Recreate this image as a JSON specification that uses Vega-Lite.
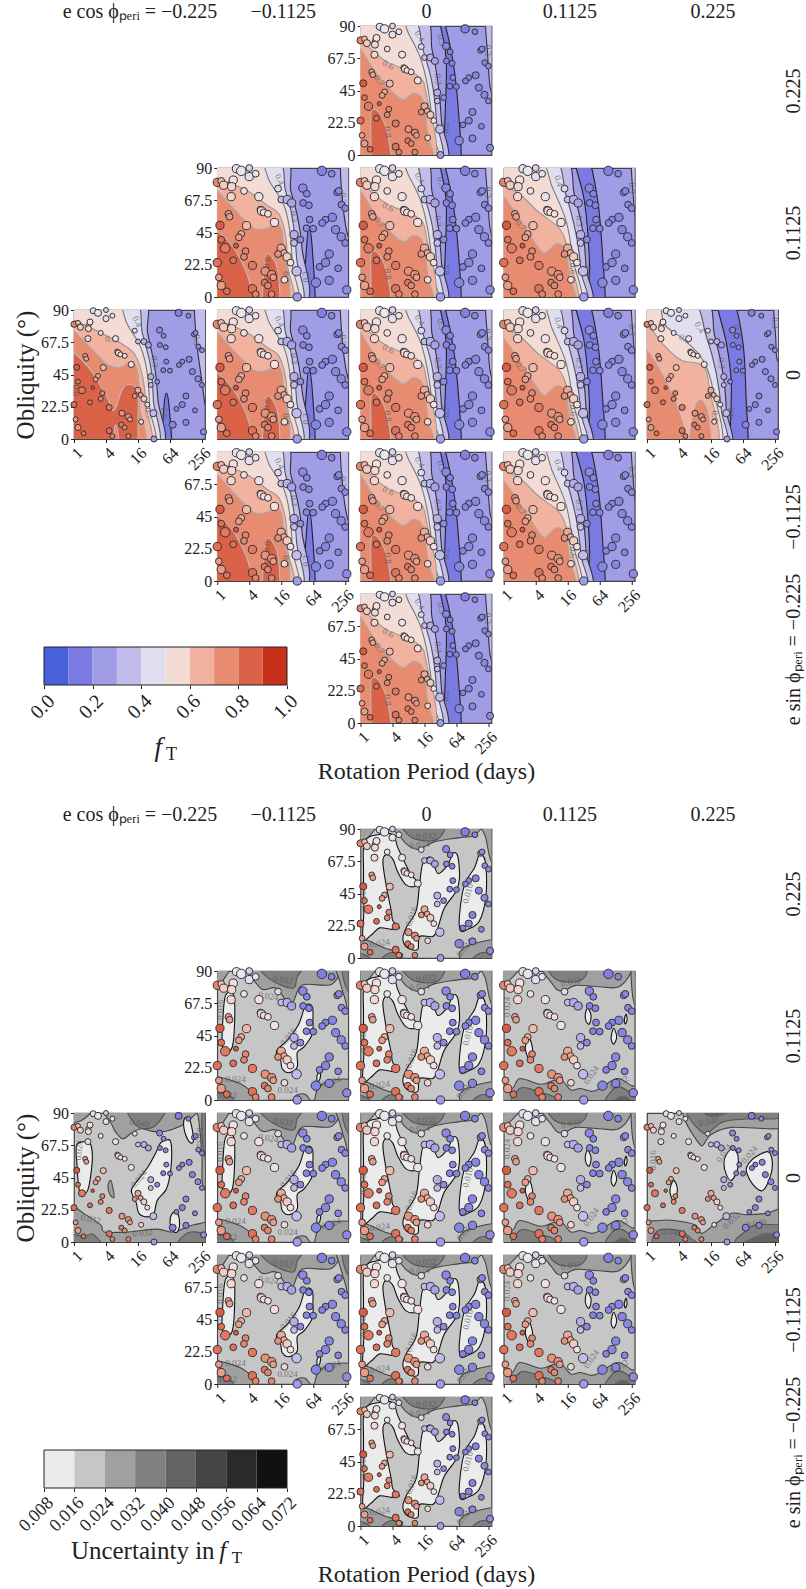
{"$schema":"https://vega.github.io/schema/vega-lite/v6.json","padding":{"left":12,"top":0,"right":0,"bottom":0},"autosize":{"type":"pad"},"bounds":"flush","align":"each","columns":5,"spacing":{"row":13,"column":12.25},"resolve":{"scale":{"fill":"independent","stroke":"independent","size":"independent"}},
"config":{"view":{"stroke":null,"strokeWidth":1.2,"continuousWidth":131,"continuousHeight":129,"discreteWidth":131,"discreteHeight":129},"legend":{"disable":true},"range":{"ramp":{"scheme":["#7f7fe4","#8f8fe6","#e8e6f0","#f2dcd6","#e8907a","#dc5a40"]}},
"axis":{"grid":false,"domain":false,"labelFont":"Liberation Serif","titleFont":"Liberation Serif","labelFontSize":16,"labelColor":"#222","tickColor":"#222","tickSize":3.5,"labelPadding":2,"titleFontWeight":"normal","titleColor":"#222","labelOverlap":false,"labelFlush":false},
"axisX":{"labelAngle":-45,"labelAlign":"right","labelBaseline":"top"},"axisRight":{"labels":false,"ticks":false,"titleAngle":-90,"titlePadding":25,"titleFontSize":20},"axisTop":{"labels":false,"ticks":false,"titlePadding":5,"titleFontSize":20},
"line":{"interpolate":"cardinal-closed","strokeWidth":1.1},"text":{"font":"Liberation Serif","fontSize":9,"fill":"#555","opacity":0.7,"align":"center","baseline":"middle"},"point":{"filled":true,"stroke":"#333","strokeWidth":1,"opacity":1}},
"datasets":{"e":[{"a":1}],
"cb":[{"a":0,"b":0.1,"L":0,"y":0,"z":1},{"a":0.1,"b":0.2,"L":1,"y":0,"z":1},{"a":0.2,"b":0.3,"L":2,"y":0,"z":1},{"a":0.3,"b":0.4,"L":3,"y":0,"z":1},{"a":0.4,"b":0.5,"L":4,"y":0,"z":1},{"a":0.5,"b":0.6,"L":5,"y":0,"z":1},{"a":0.6,"b":0.7,"L":6,"y":0,"z":1},{"a":0.7,"b":0.8,"L":7,"y":0,"z":1},{"a":0.8,"b":0.9,"L":8,"y":0,"z":1},{"a":0.9,"b":1,"L":9,"y":0,"z":1}],
"cu":[{"a":0.008,"b":0.016,"L":0,"y":0,"z":1},{"a":0.016,"b":0.024,"L":1,"y":0,"z":1},{"a":0.024,"b":0.032,"L":2,"y":0,"z":1},{"a":0.032,"b":0.04,"L":3,"y":0,"z":1},{"a":0.04,"b":0.048,"L":4,"y":0,"z":1},{"a":0.048,"b":0.056,"L":5,"y":0,"z":1},{"a":0.056,"b":0.064,"L":6,"y":0,"z":1},{"a":0.064,"b":0.072,"L":7,"y":0,"z":1}],
"p":[{"x":1.2,"y":89.5,"s":3,"f":0.45},{"x":1.5,"y":88,"s":4,"f":0.47},{"x":2,"y":90,"s":2,"f":0.43},{"x":2,"y":84,"s":3,"f":0.45},{"x":2.4,"y":86,"s":2,"f":0.5},{"x":0,"y":80,"s":3,"f":0.75},{"x":0.25,"y":81,"s":2,"f":0.65},{"x":0.4,"y":78,"s":3,"f":0.62},{"x":0.9,"y":79,"s":2,"f":0.6},{"x":1,"y":81.6,"s":3,"f":0.55},{"x":0.9,"y":77,"s":3,"f":0.6},{"x":1.67,"y":74,"s":2,"f":0.55},{"x":0.87,"y":70,"s":3,"f":0.6},{"x":2.6,"y":70,"s":3,"f":0.53},{"x":2.7,"y":61,"s":2,"f":0.6},{"x":2.77,"y":60,"s":3,"f":0.6},{"x":2.9,"y":59,"s":2,"f":0.58},{"x":3.17,"y":58,"s":2,"f":0.55},{"x":3.58,"y":52,"s":3,"f":0.55},{"x":3.8,"y":75.6,"s":2,"f":0.44},{"x":4,"y":68,"s":2,"f":0.4},{"x":4.37,"y":68,"s":3,"f":0.38},{"x":4.65,"y":65.6,"s":3,"f":0.36},{"x":5.35,"y":76,"s":3,"f":0.28},{"x":5.6,"y":72,"s":2,"f":0.25},{"x":5.37,"y":65.6,"s":2,"f":0.25},{"x":5.73,"y":64,"s":2,"f":0.25},{"x":6.54,"y":88,"s":4,"f":0.2},{"x":7.15,"y":86,"s":2,"f":0.25},{"x":7.5,"y":73,"s":2,"f":0.28},{"x":7.6,"y":74,"s":2,"f":0.28},{"x":7.77,"y":64.4,"s":2,"f":0.28},{"x":8,"y":62,"s":2,"f":0.28},{"x":7.2,"y":55.6,"s":3,"f":0.25},{"x":6.77,"y":54,"s":2,"f":0.25},{"x":6.56,"y":51.6,"s":2,"f":0.25},{"x":5.77,"y":54,"s":2,"f":0.25},{"x":5.58,"y":48,"s":2,"f":0.25},{"x":6,"y":47.7,"s":2,"f":0.25},{"x":4.8,"y":43.5,"s":3,"f":0.38},{"x":5.2,"y":40,"s":2,"f":0.3},{"x":4.8,"y":37.7,"s":2,"f":0.4},{"x":7.4,"y":47,"s":3,"f":0.25},{"x":7.75,"y":42,"s":3,"f":0.27},{"x":8,"y":37.7,"s":2,"f":0.27},{"x":0.7,"y":58,"s":2,"f":0.7},{"x":0.77,"y":56,"s":2,"f":0.7},{"x":0.17,"y":50,"s":3,"f":0.85},{"x":1.83,"y":49.8,"s":3,"f":0.65},{"x":1.5,"y":44,"s":2,"f":0.68},{"x":1.35,"y":41.6,"s":2,"f":0.7},{"x":0.5,"y":34,"s":4,"f":0.78},{"x":0.25,"y":40,"s":2,"f":0.8},{"x":1.17,"y":35.8,"s":1,"f":0.85},{"x":1.77,"y":32,"s":2,"f":0.75},{"x":1.67,"y":28,"s":2,"f":0.75},{"x":1,"y":25.6,"s":2,"f":0.8},{"x":2.2,"y":22,"s":3,"f":0.78},{"x":0,"y":24,"s":3,"f":0.8},{"x":0.1,"y":13.7,"s":2,"f":0.7},{"x":0.25,"y":8,"s":3,"f":0.7},{"x":0.6,"y":4,"s":2,"f":0.8},{"x":3,"y":18,"s":3,"f":0.72},{"x":3.4,"y":15.6,"s":3,"f":0.72},{"x":3.5,"y":13.7,"s":2,"f":0.7},{"x":2.96,"y":10,"s":2,"f":0.78},{"x":3.17,"y":8,"s":2,"f":0.75},{"x":2.2,"y":5.8,"s":3,"f":0.8},{"x":2.4,"y":2,"s":2,"f":0.75},{"x":3.4,"y":2,"s":2,"f":0.75},{"x":4,"y":34,"s":3,"f":0.68},{"x":4.17,"y":30.7,"s":2,"f":0.68},{"x":4.37,"y":28,"s":3,"f":0.62},{"x":3.8,"y":30,"s":2,"f":0.72},{"x":4.58,"y":24,"s":2,"f":0.55},{"x":4.96,"y":18,"s":4,"f":0.4},{"x":4.2,"y":12,"s":2,"f":0.6},{"x":6.17,"y":10,"s":4,"f":0.25},{"x":6.4,"y":21,"s":2,"f":0.25},{"x":6.77,"y":24,"s":3,"f":0.25},{"x":7,"y":30,"s":3,"f":0.25},{"x":7,"y":11.6,"s":3,"f":0.25},{"x":7.56,"y":20,"s":2,"f":0.25},{"x":8.1,"y":5,"s":3,"f":0.3},{"x":5,"y":0,"s":3,"f":0.35}],
"f1":[{"r":1,"L":3,"x":7.6,"y":98},{"r":1,"L":3,"x":7.65,"y":70},{"r":1,"L":3,"x":8,"y":40},{"r":1,"L":3,"x":8.25,"y":22},{"r":1,"L":3,"x":8.7,"y":20},{"r":1,"L":3,"x":8.7,"y":98},{"r":2,"L":1,"x":5.5,"y":-8},{"r":2,"L":1,"x":5.63,"y":23},{"r":2,"L":1,"x":5.77,"y":32},{"r":2,"L":1,"x":5.94,"y":23},{"r":2,"L":1,"x":6.1,"y":-8},{"r":3,"L":3,"x":4.2,"y":98},{"r":3,"L":3,"x":4.6,"y":74},{"r":3,"L":3,"x":5.05,"y":50},{"r":3,"L":3,"x":5.25,"y":27},{"r":3,"L":3,"x":5.3,"y":-8},{"r":3,"L":3,"x":-0.5,"y":-8},{"r":3,"L":3,"x":-0.5,"y":98},{"r":4,"L":4,"x":3.65,"y":98},{"r":4,"L":4,"x":4.27,"y":74},{"r":4,"L":4,"x":4.8,"y":50},{"r":4,"L":4,"x":4.96,"y":27},{"r":4,"L":4,"x":5,"y":-8},{"r":4,"L":4,"x":-0.5,"y":-8},{"r":4,"L":4,"x":-0.5,"y":98},{"r":5,"L":5,"x":2.5,"y":98},{"r":5,"L":5,"x":3.33,"y":80},{"r":5,"L":5,"x":4.17,"y":64},{"r":5,"L":5,"x":4.58,"y":46},{"r":5,"L":5,"x":4.73,"y":22},{"r":5,"L":5,"x":4.75,"y":-8},{"r":5,"L":5,"x":-0.5,"y":-8},{"r":5,"L":5,"x":-0.5,"y":98},{"r":6,"L":6,"x":-0.5,"y":84},{"r":6,"L":6,"x":0,"y":83},{"r":6,"L":6,"x":1.7,"y":74},{"r":6,"L":6,"x":2.9,"y":67},{"r":6,"L":6,"x":3.8,"y":59},{"r":6,"L":6,"x":4.3,"y":43},{"r":6,"L":6,"x":4.5,"y":23},{"r":6,"L":6,"x":4.55,"y":-8},{"r":6,"L":6,"x":-0.5,"y":-8},{"r":7,"L":7,"x":-0.5,"y":76},{"r":7,"L":7,"x":0,"y":75},{"r":7,"L":7,"x":1,"y":64},{"r":7,"L":7,"x":2.1,"y":52},{"r":7,"L":7,"x":2.9,"y":50},{"r":7,"L":7,"x":3.6,"y":54},{"r":7,"L":7,"x":4,"y":46},{"r":7,"L":7,"x":4.1,"y":23},{"r":7,"L":7,"x":4.2,"y":-8},{"r":7,"L":7,"x":-0.5,"y":-8},{"r":8,"L":8,"x":-0.5,"y":61},{"r":8,"L":8,"x":0,"y":60},{"r":8,"L":8,"x":1.04,"y":48},{"r":8,"L":8,"x":2.08,"y":29},{"r":8,"L":8,"x":2.5,"y":20},{"r":8,"L":8,"x":3,"y":34},{"r":8,"L":8,"x":3.4,"y":38},{"r":8,"L":8,"x":3.96,"y":34},{"r":8,"L":8,"x":4,"y":11},{"r":8,"L":8,"x":3.9,"y":-8},{"r":8,"L":8,"x":3,"y":-8},{"r":8,"L":8,"x":2.6,"y":10},{"r":8,"L":8,"x":2.1,"y":-8},{"r":8,"L":8,"x":-0.5,"y":-8}],
"f2":[{"r":1,"L":3,"x":7.75,"y":98},{"r":1,"L":3,"x":7.85,"y":65},{"r":1,"L":3,"x":8.25,"y":40},{"r":1,"L":3,"x":8.7,"y":40},{"r":1,"L":3,"x":8.7,"y":98},{"r":2,"L":1,"x":5.4,"y":-8},{"r":2,"L":1,"x":5.58,"y":34},{"r":2,"L":1,"x":5.73,"y":49},{"r":2,"L":1,"x":5.94,"y":34},{"r":2,"L":1,"x":6.1,"y":-8},{"r":3,"L":3,"x":4.1,"y":98},{"r":3,"L":3,"x":4.6,"y":74},{"r":3,"L":3,"x":5,"y":57},{"r":3,"L":3,"x":5.3,"y":34},{"r":3,"L":3,"x":5.35,"y":-8},{"r":3,"L":3,"x":-0.5,"y":-8},{"r":3,"L":3,"x":-0.5,"y":98},{"r":4,"L":4,"x":3.6,"y":98},{"r":4,"L":4,"x":4.27,"y":74},{"r":4,"L":4,"x":4.7,"y":55},{"r":4,"L":4,"x":4.96,"y":27},{"r":4,"L":4,"x":5.04,"y":-8},{"r":4,"L":4,"x":-0.5,"y":-8},{"r":4,"L":4,"x":-0.5,"y":98},{"r":5,"L":5,"x":2.4,"y":98},{"r":5,"L":5,"x":3.3,"y":80},{"r":5,"L":5,"x":4.17,"y":64},{"r":5,"L":5,"x":4.54,"y":46},{"r":5,"L":5,"x":4.7,"y":22},{"r":5,"L":5,"x":4.75,"y":-8},{"r":5,"L":5,"x":-0.5,"y":-8},{"r":5,"L":5,"x":-0.5,"y":98},{"r":6,"L":6,"x":-0.5,"y":84},{"r":6,"L":6,"x":0,"y":83},{"r":6,"L":6,"x":1.9,"y":74},{"r":6,"L":6,"x":3.1,"y":64},{"r":6,"L":6,"x":3.85,"y":58},{"r":6,"L":6,"x":4.27,"y":43},{"r":6,"L":6,"x":4.4,"y":22},{"r":6,"L":6,"x":4.5,"y":-8},{"r":6,"L":6,"x":-0.5,"y":-8},{"r":7,"L":7,"x":-0.5,"y":75},{"r":7,"L":7,"x":0,"y":74},{"r":7,"L":7,"x":1,"y":62},{"r":7,"L":7,"x":2.3,"y":48},{"r":7,"L":7,"x":3.1,"y":48},{"r":7,"L":7,"x":3.9,"y":50},{"r":7,"L":7,"x":4.15,"y":34},{"r":7,"L":7,"x":4.2,"y":-8},{"r":7,"L":7,"x":-0.5,"y":-8},{"r":8,"L":8,"x":-0.5,"y":47},{"r":8,"L":8,"x":0,"y":46},{"r":8,"L":8,"x":1.04,"y":34},{"r":8,"L":8,"x":2,"y":11},{"r":8,"L":8,"x":2.1,"y":-8},{"r":8,"L":8,"x":-0.5,"y":-8},{"r":9,"L":8,"x":3.1,"y":30},{"r":9,"L":8,"x":3.75,"y":20},{"r":9,"L":8,"x":3.85,"y":-8},{"r":9,"L":8,"x":2.9,"y":-8},{"r":9,"L":8,"x":2.9,"y":13}],
"f3":[{"r":1,"L":3,"x":7.85,"y":98},{"r":1,"L":3,"x":7.95,"y":70},{"r":1,"L":3,"x":8.15,"y":45},{"r":1,"L":3,"x":8.7,"y":45},{"r":1,"L":3,"x":8.7,"y":98},{"r":2,"L":1,"x":5.27,"y":-8},{"r":2,"L":1,"x":5.37,"y":62},{"r":2,"L":1,"x":5.06,"y":87},{"r":2,"L":1,"x":4.8,"y":98},{"r":2,"L":1,"x":5.1,"y":98},{"r":2,"L":1,"x":5.8,"y":64},{"r":2,"L":1,"x":6.15,"y":27},{"r":2,"L":1,"x":6.25,"y":-8},{"r":3,"L":3,"x":3.85,"y":98},{"r":3,"L":3,"x":4.48,"y":73},{"r":3,"L":3,"x":4.85,"y":50},{"r":3,"L":3,"x":5.06,"y":24},{"r":3,"L":3,"x":5.12,"y":-8},{"r":3,"L":3,"x":-0.5,"y":-8},{"r":3,"L":3,"x":-0.5,"y":98},{"r":4,"L":4,"x":3.1,"y":98},{"r":4,"L":4,"x":3.92,"y":73},{"r":4,"L":4,"x":4.48,"y":50},{"r":4,"L":4,"x":4.75,"y":24},{"r":4,"L":4,"x":4.8,"y":-8},{"r":4,"L":4,"x":-0.5,"y":-8},{"r":4,"L":4,"x":-0.5,"y":98},{"r":5,"L":5,"x":2.2,"y":98},{"r":5,"L":5,"x":3.08,"y":83},{"r":5,"L":5,"x":3.8,"y":66},{"r":5,"L":5,"x":4.27,"y":43},{"r":5,"L":5,"x":4.54,"y":15},{"r":5,"L":5,"x":4.6,"y":-8},{"r":5,"L":5,"x":-0.5,"y":-8},{"r":5,"L":5,"x":-0.5,"y":98},{"r":6,"L":6,"x":-0.5,"y":82},{"r":6,"L":6,"x":0,"y":80},{"r":6,"L":6,"x":1.5,"y":66},{"r":6,"L":6,"x":2.5,"y":61},{"r":6,"L":6,"x":3.6,"y":55},{"r":6,"L":6,"x":4.1,"y":43},{"r":6,"L":6,"x":4.48,"y":-8},{"r":6,"L":6,"x":-0.5,"y":-8},{"r":7,"L":7,"x":-0.5,"y":76},{"r":7,"L":7,"x":0,"y":74},{"r":7,"L":7,"x":1.1,"y":55},{"r":7,"L":7,"x":2.56,"y":39},{"r":7,"L":7,"x":3.3,"y":43},{"r":7,"L":7,"x":3.9,"y":38},{"r":7,"L":7,"x":4.2,"y":15},{"r":7,"L":7,"x":4.27,"y":-8},{"r":7,"L":7,"x":-0.5,"y":-8},{"r":8,"L":8,"x":0.7,"y":31},{"r":8,"L":8,"x":1.2,"y":29},{"r":8,"L":8,"x":1.73,"y":13},{"r":8,"L":8,"x":1.83,"y":-8},{"r":8,"L":8,"x":0.8,"y":-8},{"r":8,"L":8,"x":0.65,"y":15}],
"f4":[{"r":1,"L":3,"x":8,"y":98},{"r":1,"L":3,"x":8.1,"y":70},{"r":1,"L":3,"x":8.25,"y":55},{"r":1,"L":3,"x":8.7,"y":55},{"r":1,"L":3,"x":8.7,"y":98},{"r":2,"L":1,"x":4.4,"y":98},{"r":2,"L":1,"x":5.04,"y":67},{"r":2,"L":1,"x":5.35,"y":27},{"r":2,"L":1,"x":5.35,"y":-8},{"r":2,"L":1,"x":6.3,"y":-8},{"r":2,"L":1,"x":6.19,"y":27},{"r":2,"L":1,"x":5.88,"y":67},{"r":2,"L":1,"x":5.25,"y":98},{"r":3,"L":3,"x":3.7,"y":98},{"r":3,"L":3,"x":4.42,"y":71},{"r":3,"L":3,"x":4.94,"y":46},{"r":3,"L":3,"x":5.15,"y":20},{"r":3,"L":3,"x":5.19,"y":-8},{"r":3,"L":3,"x":-0.5,"y":-8},{"r":3,"L":3,"x":-0.5,"y":98},{"r":4,"L":4,"x":3.05,"y":98},{"r":4,"L":4,"x":3.9,"y":71},{"r":4,"L":4,"x":4.52,"y":44},{"r":4,"L":4,"x":4.83,"y":18},{"r":4,"L":4,"x":4.88,"y":-8},{"r":4,"L":4,"x":-0.5,"y":-8},{"r":4,"L":4,"x":-0.5,"y":98},{"r":5,"L":5,"x":2.15,"y":98},{"r":5,"L":5,"x":3.06,"y":76},{"r":5,"L":5,"x":3.9,"y":53},{"r":5,"L":5,"x":4.31,"y":27},{"r":5,"L":5,"x":4.58,"y":-8},{"r":5,"L":5,"x":-0.5,"y":-8},{"r":5,"L":5,"x":-0.5,"y":98},{"r":6,"L":6,"x":-0.5,"y":80},{"r":6,"L":6,"x":0,"y":78},{"r":6,"L":6,"x":1.08,"y":71},{"r":6,"L":6,"x":2.1,"y":60},{"r":6,"L":6,"x":3.17,"y":51},{"r":6,"L":6,"x":3.7,"y":44},{"r":6,"L":6,"x":4.1,"y":27},{"r":6,"L":6,"x":4.38,"y":-8},{"r":6,"L":6,"x":-0.5,"y":-8},{"r":7,"L":7,"x":-0.5,"y":72},{"r":7,"L":7,"x":0,"y":70},{"r":7,"L":7,"x":1.08,"y":53},{"r":7,"L":7,"x":2.33,"y":32},{"r":7,"L":7,"x":2.75,"y":32},{"r":7,"L":7,"x":3.27,"y":37},{"r":7,"L":7,"x":3.8,"y":34},{"r":7,"L":7,"x":4.1,"y":16},{"r":7,"L":7,"x":4.2,"y":-8},{"r":7,"L":7,"x":-0.5,"y":-8}],
"f5":[{"r":1,"L":3,"x":7.95,"y":98},{"r":1,"L":3,"x":8.05,"y":70},{"r":1,"L":3,"x":8.15,"y":55},{"r":1,"L":3,"x":8.7,"y":55},{"r":1,"L":3,"x":8.7,"y":98},{"r":2,"L":1,"x":4.35,"y":98},{"r":2,"L":1,"x":4.96,"y":67},{"r":2,"L":1,"x":5.27,"y":39},{"r":2,"L":1,"x":5.27,"y":-8},{"r":2,"L":1,"x":6.27,"y":-8},{"r":2,"L":1,"x":6.2,"y":27},{"r":2,"L":1,"x":6,"y":67},{"r":2,"L":1,"x":5.35,"y":98},{"r":3,"L":3,"x":3.55,"y":98},{"r":3,"L":3,"x":4.23,"y":72},{"r":3,"L":3,"x":4.75,"y":46},{"r":3,"L":3,"x":4.96,"y":20},{"r":3,"L":3,"x":4.96,"y":-8},{"r":3,"L":3,"x":-0.5,"y":-8},{"r":3,"L":3,"x":-0.5,"y":98},{"r":4,"L":4,"x":2.75,"y":98},{"r":4,"L":4,"x":3.7,"y":72},{"r":4,"L":4,"x":4.33,"y":46},{"r":4,"L":4,"x":4.65,"y":20},{"r":4,"L":4,"x":4.69,"y":-8},{"r":4,"L":4,"x":-0.5,"y":-8},{"r":4,"L":4,"x":-0.5,"y":98},{"r":5,"L":5,"x":0.7,"y":98},{"r":5,"L":5,"x":1.1,"y":80},{"r":5,"L":5,"x":2.35,"y":69},{"r":5,"L":5,"x":3.5,"y":55},{"r":5,"L":5,"x":4.13,"y":34},{"r":5,"L":5,"x":4.44,"y":-8},{"r":5,"L":5,"x":-0.5,"y":-8},{"r":5,"L":5,"x":-0.5,"y":98},{"r":6,"L":6,"x":-0.5,"y":82},{"r":6,"L":6,"x":0,"y":80},{"r":6,"L":6,"x":1.1,"y":65},{"r":6,"L":6,"x":2.15,"y":55},{"r":6,"L":6,"x":3.5,"y":51},{"r":6,"L":6,"x":3.92,"y":34},{"r":6,"L":6,"x":4.23,"y":-8},{"r":6,"L":6,"x":-0.5,"y":-8},{"r":7,"L":7,"x":-0.5,"y":64},{"r":7,"L":7,"x":0,"y":62},{"r":7,"L":7,"x":0.9,"y":46},{"r":7,"L":7,"x":1.73,"y":27},{"r":7,"L":7,"x":2.46,"y":2},{"r":7,"L":7,"x":2.6,"y":-8},{"r":7,"L":7,"x":-0.5,"y":-8},{"r":8,"L":7,"x":3.3,"y":27},{"r":8,"L":7,"x":3.8,"y":18},{"r":8,"L":7,"x":3.92,"y":-8},{"r":8,"L":7,"x":2.73,"y":-8},{"r":8,"L":7,"x":2.88,"y":16}],
"tf1":[{"t":"0.4","x":3.96,"y":82,"a":65},{"t":"0.3","x":5.04,"y":54,"a":85},{"t":"0.6","x":2.3,"y":70,"a":0},{"t":"0.2","x":5.63,"y":18,"a":-90},{"t":"0.3","x":7.7,"y":69,"a":90},{"t":"0.8","x":0.1,"y":34,"a":90},{"t":"0.7","x":4.6,"y":18,"a":90}],
"tf2":[{"t":"0.4","x":3.9,"y":82,"a":65},{"t":"0.3","x":4.8,"y":56,"a":85},{"t":"0.2","x":5.55,"y":14,"a":-90},{"t":"0.3","x":7.85,"y":69,"a":90},{"t":"0.7","x":4.3,"y":14,"a":90},{"t":"0.8","x":3.1,"y":24,"a":-85},{"t":"0.6","x":0.3,"y":35,"a":90}],
"tf3":[{"t":"0.4","x":3.7,"y":83,"a":60},{"t":"0.6","x":1.73,"y":63,"a":25},{"t":"0.3","x":4.85,"y":53,"a":85},{"t":"0.2","x":5.37,"y":19,"a":-90},{"t":"0.8","x":1.73,"y":16,"a":85},{"t":"0.7","x":1.2,"y":52,"a":50},{"t":"0.3","x":5.06,"y":80,"a":70},{"t":"0.3","x":8,"y":73,"a":90}],
"tf4":[{"t":"0.4","x":3.44,"y":81,"a":75},{"t":"0.3","x":4.73,"y":53,"a":85},{"t":"0.2","x":5.25,"y":18,"a":-90},{"t":"0.7","x":1.08,"y":50,"a":50},{"t":"0.3","x":8,"y":76,"a":90},{"t":"0.6","x":4.3,"y":20,"a":90}],
"tf5":[{"t":"0.4","x":3.3,"y":78,"a":60},{"t":"0.6","x":2.35,"y":70,"a":30},{"t":"0.3","x":4.65,"y":53,"a":85},{"t":"0.2","x":5.27,"y":18,"a":-90},{"t":"0.3","x":5.7,"y":76,"a":80},{"t":"0.6","x":4.23,"y":16,"a":90},{"t":"0.3","x":8,"y":81,"a":90}],
"u1":[{"r":1,"L":3,"x":-0.5,"y":98},{"r":1,"L":3,"x":1,"y":98},{"r":1,"L":3,"x":1,"y":90},{"r":1,"L":3,"x":0.3,"y":84},{"r":1,"L":3,"x":-0.5,"y":84},{"r":2,"L":3,"x":2.1,"y":98},{"r":2,"L":3,"x":2.4,"y":81},{"r":2,"L":3,"x":2.8,"y":74},{"r":2,"L":3,"x":3.1,"y":72},{"r":2,"L":3,"x":3.6,"y":76},{"r":2,"L":3,"x":4.2,"y":79},{"r":2,"L":3,"x":5,"y":77},{"r":2,"L":3,"x":6,"y":78},{"r":2,"L":3,"x":7.2,"y":85},{"r":2,"L":3,"x":7.6,"y":98},{"r":3,"L":3,"x":7.6,"y":98},{"r":3,"L":3,"x":7.8,"y":85},{"r":3,"L":3,"x":8,"y":60},{"r":3,"L":3,"x":8.05,"y":40},{"r":3,"L":3,"x":8.7,"y":38},{"r":3,"L":3,"x":8.7,"y":98},{"r":4,"L":4,"x":3.3,"y":98},{"r":4,"L":4,"x":3.75,"y":83},{"r":4,"L":4,"x":4.6,"y":79},{"r":4,"L":4,"x":5.4,"y":85},{"r":4,"L":4,"x":5.8,"y":98},{"r":5,"L":4,"x":8.1,"y":98},{"r":5,"L":4,"x":8,"y":75},{"r":5,"L":4,"x":8.3,"y":55},{"r":5,"L":4,"x":8.7,"y":55},{"r":5,"L":4,"x":8.7,"y":98},{"r":6,"L":3,"x":-0.5,"y":25},{"r":6,"L":3,"x":0,"y":24.5},{"r":6,"L":3,"x":0.6,"y":20},{"r":6,"L":3,"x":1.67,"y":12},{"r":6,"L":3,"x":1.9,"y":7},{"r":6,"L":3,"x":3.4,"y":7},{"r":6,"L":3,"x":5.2,"y":9},{"r":6,"L":3,"x":6.2,"y":7},{"r":6,"L":3,"x":7.5,"y":12},{"r":6,"L":3,"x":8.7,"y":12},{"r":6,"L":3,"x":8.7,"y":-8},{"r":6,"L":3,"x":-0.5,"y":-8},{"r":7,"L":4,"x":-0.5,"y":5},{"r":7,"L":4,"x":0.6,"y":4},{"r":7,"L":4,"x":1.25,"y":5},{"r":7,"L":4,"x":1.9,"y":-8},{"r":7,"L":4,"x":-0.5,"y":-8},{"r":8,"L":4,"x":6.4,"y":-8},{"r":8,"L":4,"x":6.5,"y":0},{"r":8,"L":4,"x":7.3,"y":7},{"r":8,"L":4,"x":8.7,"y":3},{"r":8,"L":4,"x":8.7,"y":-8},{"r":9,"L":3,"x":2.3,"y":43},{"r":9,"L":3,"x":2.46,"y":36},{"r":9,"L":3,"x":2.5,"y":31},{"r":9,"L":3,"x":2.25,"y":33},{"r":9,"L":3,"x":2.12,"y":39},{"r":10,"L":1,"x":0.6,"y":70},{"r":10,"L":1,"x":1,"y":69},{"r":10,"L":1,"x":1.15,"y":60},{"r":10,"L":1,"x":1.04,"y":46},{"r":10,"L":1,"x":0.85,"y":36},{"r":10,"L":1,"x":0.52,"y":33},{"r":10,"L":1,"x":0.3,"y":38},{"r":10,"L":1,"x":0.2,"y":52},{"r":10,"L":1,"x":0.15,"y":67},{"r":11,"L":1,"x":5.73,"y":71},{"r":11,"L":1,"x":6.04,"y":70},{"r":11,"L":1,"x":6.1,"y":57},{"r":11,"L":1,"x":5.94,"y":43},{"r":11,"L":1,"x":5.73,"y":36},{"r":11,"L":1,"x":5.2,"y":29},{"r":11,"L":1,"x":5,"y":20},{"r":11,"L":1,"x":4.6,"y":17.5},{"r":11,"L":1,"x":4.06,"y":20},{"r":11,"L":1,"x":3.9,"y":27},{"r":11,"L":1,"x":3.65,"y":33},{"r":11,"L":1,"x":3.65,"y":38},{"r":11,"L":1,"x":4.6,"y":52},{"r":11,"L":1,"x":5.1,"y":62},{"r":11,"L":1,"x":5.4,"y":69},{"r":12,"L":1,"x":6.9,"y":86},{"r":12,"L":1,"x":7.2,"y":86},{"r":12,"L":1,"x":7.4,"y":78},{"r":12,"L":1,"x":7.46,"y":70},{"r":12,"L":1,"x":7.2,"y":70},{"r":12,"L":1,"x":6.9,"y":78},{"r":13,"L":1,"x":6.15,"y":20},{"r":13,"L":1,"x":6.46,"y":20},{"r":13,"L":1,"x":6.6,"y":13},{"r":13,"L":1,"x":6.46,"y":7},{"r":13,"L":1,"x":6.15,"y":8},{"r":13,"L":1,"x":6,"y":14}],
"u2":[{"r":1,"L":3,"x":-0.5,"y":98},{"r":1,"L":3,"x":1,"y":98},{"r":1,"L":3,"x":0.4,"y":84},{"r":1,"L":3,"x":0,"y":80},{"r":1,"L":3,"x":-0.5,"y":80},{"r":2,"L":3,"x":2.1,"y":98},{"r":2,"L":3,"x":2.7,"y":78},{"r":2,"L":3,"x":3.7,"y":78},{"r":2,"L":3,"x":4.6,"y":66},{"r":2,"L":3,"x":5.3,"y":80},{"r":2,"L":3,"x":7.2,"y":81},{"r":2,"L":3,"x":7.3,"y":98},{"r":3,"L":3,"x":7.3,"y":98},{"r":3,"L":3,"x":7.6,"y":85},{"r":3,"L":3,"x":8,"y":70},{"r":3,"L":3,"x":8.2,"y":62},{"r":3,"L":3,"x":8.7,"y":62},{"r":3,"L":3,"x":8.7,"y":98},{"r":4,"L":4,"x":2.5,"y":98},{"r":4,"L":4,"x":3.2,"y":85},{"r":4,"L":4,"x":4.7,"y":78},{"r":4,"L":4,"x":5,"y":86},{"r":4,"L":4,"x":5.5,"y":98},{"r":5,"L":4,"x":7.8,"y":98},{"r":5,"L":4,"x":8,"y":80},{"r":5,"L":4,"x":8.7,"y":72},{"r":5,"L":4,"x":8.7,"y":98},{"r":6,"L":3,"x":-0.5,"y":15},{"r":6,"L":3,"x":1.3,"y":12},{"r":6,"L":3,"x":2.3,"y":4},{"r":6,"L":3,"x":2.6,"y":-2},{"r":6,"L":3,"x":4.7,"y":-2},{"r":6,"L":3,"x":4.9,"y":3},{"r":6,"L":3,"x":5.5,"y":4},{"r":6,"L":3,"x":6,"y":-2},{"r":6,"L":3,"x":6.3,"y":8},{"r":6,"L":3,"x":7.2,"y":14},{"r":6,"L":3,"x":8.7,"y":12},{"r":6,"L":3,"x":8.7,"y":-8},{"r":6,"L":3,"x":-0.5,"y":-8},{"r":7,"L":4,"x":-0.5,"y":4},{"r":7,"L":4,"x":0.6,"y":4},{"r":7,"L":4,"x":1,"y":-2},{"r":7,"L":4,"x":-0.5,"y":-8},{"r":8,"L":1,"x":0.52,"y":73},{"r":8,"L":1,"x":1.04,"y":73},{"r":8,"L":1,"x":1.08,"y":53},{"r":8,"L":1,"x":0.94,"y":37},{"r":8,"L":1,"x":0.52,"y":33},{"r":8,"L":1,"x":0.31,"y":39},{"r":8,"L":1,"x":0.35,"y":56},{"r":9,"L":1,"x":5.52,"y":66},{"r":9,"L":1,"x":5.94,"y":65},{"r":9,"L":1,"x":5.98,"y":56},{"r":9,"L":1,"x":5.94,"y":46},{"r":9,"L":1,"x":5.42,"y":37},{"r":9,"L":1,"x":5,"y":33},{"r":9,"L":1,"x":5,"y":23},{"r":9,"L":1,"x":4.48,"y":19},{"r":9,"L":1,"x":4.06,"y":22},{"r":9,"L":1,"x":3.96,"y":28},{"r":9,"L":1,"x":3.75,"y":31},{"r":9,"L":1,"x":3.75,"y":35},{"r":9,"L":1,"x":4.4,"y":42},{"r":9,"L":1,"x":5.1,"y":53},{"r":10,"L":1,"x":6.25,"y":17.5},{"r":10,"L":1,"x":6.46,"y":18.6},{"r":10,"L":1,"x":6.4,"y":14},{"r":10,"L":1,"x":6.25,"y":13}],
"u3":[{"r":1,"L":3,"x":-0.5,"y":98},{"r":1,"L":3,"x":1.2,"y":98},{"r":1,"L":3,"x":0.3,"y":82},{"r":1,"L":3,"x":-0.5,"y":82},{"r":2,"L":3,"x":2,"y":98},{"r":2,"L":3,"x":2.6,"y":83},{"r":2,"L":3,"x":3.2,"y":77},{"r":2,"L":3,"x":3.7,"y":76},{"r":2,"L":3,"x":4.6,"y":81},{"r":2,"L":3,"x":6.2,"y":84},{"r":2,"L":3,"x":7.2,"y":86},{"r":2,"L":3,"x":7.3,"y":98},{"r":3,"L":3,"x":7.3,"y":98},{"r":3,"L":3,"x":7.8,"y":85},{"r":3,"L":3,"x":8.15,"y":68},{"r":3,"L":3,"x":8.7,"y":66},{"r":3,"L":3,"x":8.7,"y":98},{"r":4,"L":4,"x":2.5,"y":98},{"r":4,"L":4,"x":3.2,"y":84},{"r":4,"L":4,"x":4.83,"y":83},{"r":4,"L":4,"x":5.2,"y":98},{"r":5,"L":3,"x":-0.5,"y":15},{"r":5,"L":3,"x":0.5,"y":12},{"r":5,"L":3,"x":1.5,"y":7},{"r":5,"L":3,"x":2.6,"y":3},{"r":5,"L":3,"x":2.8,"y":-2},{"r":5,"L":3,"x":5.9,"y":-2},{"r":5,"L":3,"x":6.2,"y":4},{"r":5,"L":3,"x":6.8,"y":9},{"r":5,"L":3,"x":8.7,"y":12},{"r":5,"L":3,"x":8.7,"y":-8},{"r":5,"L":3,"x":-0.5,"y":-8},{"r":6,"L":4,"x":1.3,"y":-2},{"r":6,"L":4,"x":1.7,"y":3},{"r":6,"L":4,"x":2.3,"y":3},{"r":6,"L":4,"x":2.6,"y":-2},{"r":7,"L":4,"x":-0.5,"y":3},{"r":7,"L":4,"x":0.3,"y":2},{"r":7,"L":4,"x":0.6,"y":-2},{"r":7,"L":4,"x":-0.5,"y":-8},{"r":8,"L":4,"x":7,"y":-2},{"r":8,"L":4,"x":7.4,"y":3},{"r":8,"L":4,"x":8,"y":3},{"r":8,"L":4,"x":8.3,"y":-2},{"r":9,"L":1,"x":0.25,"y":81},{"r":9,"L":1,"x":1.08,"y":86},{"r":9,"L":1,"x":2.02,"y":86},{"r":9,"L":1,"x":2.33,"y":77},{"r":9,"L":1,"x":2.75,"y":67},{"r":9,"L":1,"x":3.17,"y":58},{"r":9,"L":1,"x":3.58,"y":53},{"r":9,"L":1,"x":3.48,"y":50},{"r":9,"L":1,"x":2.85,"y":51},{"r":9,"L":1,"x":2.33,"y":60},{"r":9,"L":1,"x":2.02,"y":69},{"r":9,"L":1,"x":1.6,"y":72},{"r":9,"L":1,"x":1.4,"y":67},{"r":9,"L":1,"x":1.6,"y":51},{"r":9,"L":1,"x":1.92,"y":33},{"r":9,"L":1,"x":2.02,"y":26},{"r":9,"L":1,"x":2.44,"y":21},{"r":9,"L":1,"x":1.92,"y":20},{"r":9,"L":1,"x":1.19,"y":21},{"r":9,"L":1,"x":0.67,"y":16},{"r":9,"L":1,"x":0.15,"y":13},{"r":9,"L":1,"x":0.21,"y":33},{"r":9,"L":1,"x":0.19,"y":60},{"r":10,"L":1,"x":3.9,"y":66},{"r":10,"L":1,"x":4.42,"y":70},{"r":10,"L":1,"x":4.83,"y":59},{"r":10,"L":1,"x":5.46,"y":65},{"r":10,"L":1,"x":5.77,"y":73},{"r":10,"L":1,"x":6.08,"y":71},{"r":10,"L":1,"x":6.19,"y":56},{"r":10,"L":1,"x":5.98,"y":46.5},{"r":10,"L":1,"x":5.25,"y":35},{"r":10,"L":1,"x":4.83,"y":21},{"r":10,"L":1,"x":4.52,"y":15},{"r":10,"L":1,"x":3.69,"y":15},{"r":10,"L":1,"x":3.58,"y":6},{"r":10,"L":1,"x":2.96,"y":7},{"r":10,"L":1,"x":2.65,"y":13},{"r":10,"L":1,"x":2.85,"y":21},{"r":10,"L":1,"x":3.48,"y":33},{"r":10,"L":1,"x":3.69,"y":51},{"r":11,"L":1,"x":7.44,"y":72},{"r":11,"L":1,"x":7.81,"y":67},{"r":11,"L":1,"x":7.85,"y":44},{"r":11,"L":1,"x":7.44,"y":26},{"r":11,"L":1,"x":6.71,"y":20},{"r":11,"L":1,"x":6.25,"y":19},{"r":11,"L":1,"x":6.19,"y":30},{"r":11,"L":1,"x":6.5,"y":51},{"r":11,"L":1,"x":7.13,"y":63}],
"u4":[{"r":1,"L":3,"x":-0.5,"y":98},{"r":1,"L":3,"x":1.2,"y":98},{"r":1,"L":3,"x":0.4,"y":84},{"r":1,"L":3,"x":-0.5,"y":82},{"r":2,"L":3,"x":2.6,"y":98},{"r":2,"L":3,"x":3.1,"y":80},{"r":2,"L":3,"x":3.7,"y":76},{"r":2,"L":3,"x":4.5,"y":80},{"r":2,"L":3,"x":6,"y":79},{"r":2,"L":3,"x":7.2,"y":79},{"r":2,"L":3,"x":8,"y":90},{"r":2,"L":3,"x":8,"y":98},{"r":3,"L":3,"x":8,"y":98},{"r":3,"L":3,"x":8.1,"y":70},{"r":3,"L":3,"x":8.7,"y":60},{"r":3,"L":3,"x":8.7,"y":98},{"r":4,"L":4,"x":2.7,"y":98},{"r":4,"L":4,"x":3.3,"y":84},{"r":4,"L":4,"x":4.9,"y":84},{"r":4,"L":4,"x":5.1,"y":98},{"r":5,"L":3,"x":-0.5,"y":12},{"r":5,"L":3,"x":0.5,"y":8},{"r":5,"L":3,"x":1,"y":15},{"r":5,"L":3,"x":2.3,"y":11},{"r":5,"L":3,"x":3.2,"y":14},{"r":5,"L":3,"x":3.7,"y":13},{"r":5,"L":3,"x":4.2,"y":7},{"r":5,"L":3,"x":4.8,"y":8},{"r":5,"L":3,"x":5.5,"y":6},{"r":5,"L":3,"x":6,"y":8},{"r":5,"L":3,"x":7.1,"y":15},{"r":5,"L":3,"x":8,"y":10},{"r":5,"L":3,"x":8.7,"y":8},{"r":5,"L":3,"x":8.7,"y":-8},{"r":5,"L":3,"x":-0.5,"y":-8},{"r":6,"L":4,"x":0.6,"y":-2},{"r":6,"L":4,"x":1,"y":8},{"r":6,"L":4,"x":1.6,"y":8},{"r":6,"L":4,"x":2.3,"y":5},{"r":6,"L":4,"x":3,"y":3},{"r":6,"L":4,"x":3.4,"y":-2},{"r":7,"L":4,"x":6.4,"y":-2},{"r":7,"L":4,"x":6.8,"y":7},{"r":7,"L":4,"x":7.3,"y":9},{"r":7,"L":4,"x":8,"y":4},{"r":7,"L":4,"x":8.2,"y":-2},{"r":8,"L":5,"x":6.9,"y":-2},{"r":8,"L":5,"x":7.2,"y":2},{"r":8,"L":5,"x":7.7,"y":2},{"r":8,"L":5,"x":7.9,"y":-2},{"r":9,"L":1,"x":1.6,"y":43},{"r":9,"L":1,"x":1.81,"y":35},{"r":9,"L":1,"x":1.71,"y":28},{"r":9,"L":1,"x":1.5,"y":30},{"r":9,"L":1,"x":1.35,"y":37},{"r":10,"L":1,"x":5.25,"y":64},{"r":10,"L":1,"x":5.46,"y":59},{"r":10,"L":1,"x":5.35,"y":53},{"r":10,"L":1,"x":5.15,"y":55},{"r":10,"L":1,"x":5.1,"y":60},{"r":11,"L":1,"x":7.65,"y":60},{"r":11,"L":1,"x":7.71,"y":56},{"r":11,"L":1,"x":7.6,"y":53},{"r":11,"L":1,"x":7.54,"y":56},{"r":12,"L":1,"x":6.87,"y":50},{"r":12,"L":1,"x":7.06,"y":44},{"r":12,"L":1,"x":6.87,"y":39},{"r":12,"L":1,"x":6.71,"y":43}],
"u5":[{"r":1,"L":3,"x":2.5,"y":98},{"r":1,"L":3,"x":3.3,"y":68},{"r":1,"L":3,"x":4,"y":75},{"r":1,"L":3,"x":5.3,"y":80},{"r":1,"L":3,"x":8.7,"y":80},{"r":1,"L":3,"x":8.7,"y":98},{"r":2,"L":4,"x":2.7,"y":98},{"r":2,"L":4,"x":3.5,"y":76},{"r":2,"L":4,"x":4.8,"y":84},{"r":2,"L":4,"x":6.5,"y":86},{"r":2,"L":4,"x":8,"y":86},{"r":2,"L":4,"x":8.7,"y":90},{"r":2,"L":4,"x":8.7,"y":98},{"r":3,"L":5,"x":3.3,"y":98},{"r":3,"L":5,"x":3.8,"y":88},{"r":3,"L":5,"x":5,"y":90},{"r":3,"L":5,"x":5.3,"y":98},{"r":4,"L":3,"x":-0.5,"y":12},{"r":4,"L":3,"x":0.8,"y":15},{"r":4,"L":3,"x":1.7,"y":15},{"r":4,"L":3,"x":3,"y":12},{"r":4,"L":3,"x":3.4,"y":6},{"r":4,"L":3,"x":4.2,"y":12},{"r":4,"L":3,"x":5.3,"y":20},{"r":4,"L":3,"x":6.2,"y":19},{"r":4,"L":3,"x":7.5,"y":20},{"r":4,"L":3,"x":8.7,"y":22},{"r":4,"L":3,"x":8.7,"y":-8},{"r":4,"L":3,"x":-0.5,"y":-8},{"r":5,"L":4,"x":0.5,"y":-2},{"r":5,"L":4,"x":0.7,"y":8},{"r":5,"L":4,"x":2,"y":8},{"r":5,"L":4,"x":2.8,"y":2},{"r":5,"L":4,"x":3,"y":-2},{"r":6,"L":4,"x":5.6,"y":-2},{"r":6,"L":4,"x":6.2,"y":8},{"r":6,"L":4,"x":6.8,"y":12},{"r":6,"L":4,"x":8,"y":12},{"r":6,"L":4,"x":8.7,"y":10},{"r":6,"L":4,"x":8.7,"y":-8},{"r":7,"L":5,"x":6.1,"y":-2},{"r":7,"L":5,"x":6.7,"y":3},{"r":7,"L":5,"x":7.5,"y":6},{"r":7,"L":5,"x":8.3,"y":4},{"r":7,"L":5,"x":8.7,"y":2},{"r":7,"L":5,"x":8.7,"y":-8},{"r":8,"L":1,"x":1.67,"y":43},{"r":8,"L":1,"x":1.9,"y":37},{"r":8,"L":1,"x":1.73,"y":29},{"r":8,"L":1,"x":1.52,"y":31},{"r":8,"L":1,"x":1.44,"y":37},{"r":9,"L":1,"x":5.38,"y":65},{"r":9,"L":1,"x":5.69,"y":60},{"r":9,"L":1,"x":5.65,"y":50},{"r":9,"L":1,"x":5.27,"y":43},{"r":9,"L":1,"x":4.96,"y":47},{"r":9,"L":1,"x":4.81,"y":55},{"r":9,"L":1,"x":4.96,"y":61},{"r":10,"L":1,"x":7.56,"y":63},{"r":10,"L":1,"x":7.81,"y":58},{"r":10,"L":1,"x":7.77,"y":48},{"r":10,"L":1,"x":7.25,"y":36},{"r":10,"L":1,"x":6.63,"y":40},{"r":10,"L":1,"x":6.2,"y":50},{"r":10,"L":1,"x":6.52,"y":57},{"r":10,"L":1,"x":7.04,"y":61}],
"tu1":[{"t":"0.024","x":0.3,"y":64,"a":-85},{"t":"0.032","x":1.04,"y":16,"a":12},{"t":"0.032","x":4.27,"y":6.5,"a":-5},{"t":"0.024","x":4.06,"y":44,"a":-50},{"t":"0.040","x":4.1,"y":83,"a":8},{"t":"0.032","x":7.9,"y":73,"a":90}],
"tu2":[{"t":"0.016","x":0.2,"y":63,"a":-90},{"t":"0.024","x":3.2,"y":72.5,"a":10},{"t":"0.032","x":4.1,"y":84,"a":8},{"t":"0.016","x":4.44,"y":44,"a":-50},{"t":"0.024","x":1.15,"y":15,"a":0},{"t":"0.024","x":4.4,"y":7,"a":0},{"t":"0.024","x":7.1,"y":13,"a":-15},{"t":"0.032","x":0.6,"y":3.5,"a":0}],
"tu3":[{"t":"0.024","x":3.7,"y":79,"a":-5},{"t":"0.032","x":4.1,"y":85,"a":-5},{"t":"0.016","x":3.2,"y":29,"a":-70},{"t":"0.016","x":6.7,"y":45,"a":-75},{"t":"0.024","x":1.2,"y":10.5,"a":-8},{"t":"0.024","x":6.5,"y":7,"a":-50},{"t":"0.016","x":0.15,"y":40,"a":-90}],
"tu4":[{"t":"0.032","x":4.2,"y":82.5,"a":-10},{"t":"0.024","x":0.2,"y":65,"a":-90},{"t":"0.024","x":5.46,"y":17.5,"a":-55},{"t":"0.032","x":7.2,"y":12,"a":-30}],
"tu5":[{"t":"0.040","x":3.85,"y":84,"a":-10},{"t":"0.024","x":4.8,"y":62,"a":-55},{"t":"0.024","x":6.4,"y":61,"a":-50},{"t":"0.016","x":0.4,"y":57,"a":-90},{"t":"0.032","x":5.27,"y":15,"a":-45},{"t":"0.040","x":6.83,"y":13,"a":-10},{"t":"0.040","x":1.52,"y":7,"a":5}]
},
"concat":[
{"data":{"name":"e"},"mark":"text","encoding":{"x":{"datum":1,"type":"quantitative","axis":{"orient":"top","title":"e cos ϕₚₑᵣᵢ = −0.225"}}}},{"data":{"name":"e"},"mark":"text","encoding":{"x":{"datum":1,"type":"quantitative","axis":{"orient":"top","title":"−0.1125"}}}},
{"view":{"fill":"#a09ce6","stroke":"#444"},"encoding":{"x":{"field":"x","type":"quantitative","scale":{"domain":[0,8.19]},"axis":{"orient":"top","title":"0"}},"y":{"field":"y","type":"quantitative","scale":{"domain":[0,90]},"axis":{"values":[0,22.5,45,67.5,90],"labelExpr":"''+datum.value","title":null}}},"layer":[{"data":{"name":"f3"},"mark":{"type":"line","clip":true},"encoding":{"detail":{"field":"r"},"order":{"value":null},"fill":{"field":"L","type":"ordinal","scale":{"domain":[1,3,4,5,6,7,8],"range":["#7a7ae2","#c1bcec","#e0deef","#f4dcd6","#f1b2a0","#e78b71","#da6248"]}},"stroke":{"field":"L","type":"ordinal","scale":{"domain":[1,3,4,5,6,7,8],"range":["#222","#333","#555","#777","#999","#aaa","#bbb"]}}}},{"data":{"name":"tf3"},"mark":"text","encoding":{"text":{"field":"t"},"angle":{"field":"a","type":"quantitative","scale":null}}},{"data":{"name":"p"},"mark":"point","encoding":{"fill":{"field":"f","type":"quantitative"},"size":{"field":"s","type":"quantitative","scale":{"domain":[1,5],"range":[16,85]}}}}]},
{"data":{"name":"e"},"mark":"text","encoding":{"x":{"datum":1,"type":"quantitative","axis":{"orient":"top","title":"0.1125"}}}},
{"data":{"name":"e"},"mark":"text","encoding":{"x":{"datum":1,"type":"quantitative","axis":{"orient":"top","title":"0.225"}},"y":{"datum":1,"type":"quantitative","axis":{"orient":"right","title":"0.225"}}}},

{"data":{"name":"e"},"mark":"text"},
{"view":{"fill":"#a09ce6","stroke":"#444"},"encoding":{"x":{"field":"x","type":"quantitative","scale":{"domain":[0,8.19]},"axis":null},"y":{"field":"y","type":"quantitative","scale":{"domain":[0,90]},"axis":{"values":[0,22.5,45,67.5,90],"labelExpr":"''+datum.value","title":null}}},"layer":[{"data":{"name":"f2"},"mark":{"type":"line","clip":true},"encoding":{"detail":{"field":"r"},"order":{"value":null},"fill":{"field":"L","type":"ordinal","scale":{"domain":[1,3,4,5,6,7,8],"range":["#7a7ae2","#c1bcec","#e0deef","#f4dcd6","#f1b2a0","#e78b71","#da6248"]}},"stroke":{"field":"L","type":"ordinal","scale":{"domain":[1,3,4,5,6,7,8],"range":["#222","#333","#555","#777","#999","#aaa","#bbb"]}}}},{"data":{"name":"tf2"},"mark":"text","encoding":{"text":{"field":"t"},"angle":{"field":"a","type":"quantitative","scale":null}}},{"data":{"name":"p"},"mark":"point","encoding":{"fill":{"field":"f","type":"quantitative"},"size":{"field":"s","type":"quantitative","scale":{"domain":[1,5],"range":[25,110]}}}}]},
{"view":{"fill":"#a09ce6","stroke":"#444"},"encoding":{"x":{"field":"x","type":"quantitative","scale":{"domain":[0,8.19]},"axis":null},"y":{"field":"y","type":"quantitative","scale":{"domain":[0,90]},"axis":null}},"layer":[{"data":{"name":"f3"},"mark":{"type":"line","clip":true},"encoding":{"detail":{"field":"r"},"order":{"value":null},"fill":{"field":"L","type":"ordinal","scale":{"domain":[1,3,4,5,6,7,8],"range":["#7a7ae2","#c1bcec","#e0deef","#f4dcd6","#f1b2a0","#e78b71","#da6248"]}},"stroke":{"field":"L","type":"ordinal","scale":{"domain":[1,3,4,5,6,7,8],"range":["#222","#333","#555","#777","#999","#aaa","#bbb"]}}}},{"data":{"name":"tf3"},"mark":"text","encoding":{"text":{"field":"t"},"angle":{"field":"a","type":"quantitative","scale":null}}},{"data":{"name":"p"},"mark":"point","encoding":{"fill":{"field":"f","type":"quantitative"},"size":{"field":"s","type":"quantitative","scale":{"domain":[1,5],"range":[25,110]}}}}]},
{"view":{"fill":"#a09ce6","stroke":"#444"},"encoding":{"x":{"field":"x","type":"quantitative","scale":{"domain":[0,8.19]},"axis":null},"y":{"field":"y","type":"quantitative","scale":{"domain":[0,90]},"axis":null}},"layer":[{"data":{"name":"f4"},"mark":{"type":"line","clip":true},"encoding":{"detail":{"field":"r"},"order":{"value":null},"fill":{"field":"L","type":"ordinal","scale":{"domain":[1,3,4,5,6,7,8],"range":["#7a7ae2","#c1bcec","#e0deef","#f4dcd6","#f1b2a0","#e78b71","#da6248"]}},"stroke":{"field":"L","type":"ordinal","scale":{"domain":[1,3,4,5,6,7,8],"range":["#222","#333","#555","#777","#999","#aaa","#bbb"]}}}},{"data":{"name":"tf4"},"mark":"text","encoding":{"text":{"field":"t"},"angle":{"field":"a","type":"quantitative","scale":null}}},{"data":{"name":"p"},"mark":"point","encoding":{"fill":{"field":"f","type":"quantitative"},"size":{"field":"s","type":"quantitative","scale":{"domain":[1,5],"range":[25,110]}}}}]},
{"data":{"name":"e"},"mark":"text","encoding":{"y":{"datum":1,"type":"quantitative","axis":{"orient":"right","title":"0.1125"}}}},

{"view":{"fill":"#a09ce6","stroke":"#444"},"encoding":{"x":{"field":"x","type":"quantitative","scale":{"domain":[0,8.19]},"axis":{"values":[0,2,4,6,8],"labelExpr":"pow(2,datum.value)","title":null}},"y":{"field":"y","type":"quantitative","scale":{"domain":[0,90]},"axis":{"values":[0,22.5,45,67.5,90],"labelExpr":"''+datum.value","title":"Obliquity (°)","titleFontSize":25,"titlePadding":2}}},"layer":[{"data":{"name":"f1"},"mark":{"type":"line","clip":true},"encoding":{"detail":{"field":"r"},"order":{"value":null},"fill":{"field":"L","type":"ordinal","scale":{"domain":[1,3,4,5,6,7,8],"range":["#7a7ae2","#c1bcec","#e0deef","#f4dcd6","#f1b2a0","#e78b71","#da6248"]}},"stroke":{"field":"L","type":"ordinal","scale":{"domain":[1,3,4,5,6,7,8],"range":["#222","#333","#555","#777","#999","#aaa","#bbb"]}}}},{"data":{"name":"tf1"},"mark":"text","encoding":{"text":{"field":"t"},"angle":{"field":"a","type":"quantitative","scale":null}}},{"data":{"name":"p"},"mark":"point","encoding":{"fill":{"field":"f","type":"quantitative"},"size":{"field":"s","type":"quantitative","scale":{"domain":[1,5],"range":[12,62]}}}}]},
{"view":{"fill":"#a09ce6","stroke":"#444"},"encoding":{"x":{"field":"x","type":"quantitative","scale":{"domain":[0,8.19]},"axis":null},"y":{"field":"y","type":"quantitative","scale":{"domain":[0,90]},"axis":null}},"layer":[{"data":{"name":"f2"},"mark":{"type":"line","clip":true},"encoding":{"detail":{"field":"r"},"order":{"value":null},"fill":{"field":"L","type":"ordinal","scale":{"domain":[1,3,4,5,6,7,8],"range":["#7a7ae2","#c1bcec","#e0deef","#f4dcd6","#f1b2a0","#e78b71","#da6248"]}},"stroke":{"field":"L","type":"ordinal","scale":{"domain":[1,3,4,5,6,7,8],"range":["#222","#333","#555","#777","#999","#aaa","#bbb"]}}}},{"data":{"name":"tf2"},"mark":"text","encoding":{"text":{"field":"t"},"angle":{"field":"a","type":"quantitative","scale":null}}},{"data":{"name":"p"},"mark":"point","encoding":{"fill":{"field":"f","type":"quantitative"},"size":{"field":"s","type":"quantitative","scale":{"domain":[1,5],"range":[25,110]}}}}]},
{"view":{"fill":"#a09ce6","stroke":"#444"},"encoding":{"x":{"field":"x","type":"quantitative","scale":{"domain":[0,8.19]},"axis":null},"y":{"field":"y","type":"quantitative","scale":{"domain":[0,90]},"axis":null}},"layer":[{"data":{"name":"f3"},"mark":{"type":"line","clip":true},"encoding":{"detail":{"field":"r"},"order":{"value":null},"fill":{"field":"L","type":"ordinal","scale":{"domain":[1,3,4,5,6,7,8],"range":["#7a7ae2","#c1bcec","#e0deef","#f4dcd6","#f1b2a0","#e78b71","#da6248"]}},"stroke":{"field":"L","type":"ordinal","scale":{"domain":[1,3,4,5,6,7,8],"range":["#222","#333","#555","#777","#999","#aaa","#bbb"]}}}},{"data":{"name":"tf3"},"mark":"text","encoding":{"text":{"field":"t"},"angle":{"field":"a","type":"quantitative","scale":null}}},{"data":{"name":"p"},"mark":"point","encoding":{"fill":{"field":"f","type":"quantitative"},"size":{"field":"s","type":"quantitative","scale":{"domain":[1,5],"range":[25,110]}}}}]},
{"view":{"fill":"#a09ce6","stroke":"#444"},"encoding":{"x":{"field":"x","type":"quantitative","scale":{"domain":[0,8.19]},"axis":null},"y":{"field":"y","type":"quantitative","scale":{"domain":[0,90]},"axis":null}},"layer":[{"data":{"name":"f4"},"mark":{"type":"line","clip":true},"encoding":{"detail":{"field":"r"},"order":{"value":null},"fill":{"field":"L","type":"ordinal","scale":{"domain":[1,3,4,5,6,7,8],"range":["#7a7ae2","#c1bcec","#e0deef","#f4dcd6","#f1b2a0","#e78b71","#da6248"]}},"stroke":{"field":"L","type":"ordinal","scale":{"domain":[1,3,4,5,6,7,8],"range":["#222","#333","#555","#777","#999","#aaa","#bbb"]}}}},{"data":{"name":"tf4"},"mark":"text","encoding":{"text":{"field":"t"},"angle":{"field":"a","type":"quantitative","scale":null}}},{"data":{"name":"p"},"mark":"point","encoding":{"fill":{"field":"f","type":"quantitative"},"size":{"field":"s","type":"quantitative","scale":{"domain":[1,5],"range":[25,110]}}}}]},
{"view":{"fill":"#a09ce6","stroke":"#444"},"encoding":{"x":{"field":"x","type":"quantitative","scale":{"domain":[0,8.19]},"axis":{"values":[0,2,4,6,8],"labelExpr":"pow(2,datum.value)","title":null}},"y":{"field":"y","type":"quantitative","scale":{"domain":[0,90]},"axis":{"orient":"right","title":"0"}}},"layer":[{"data":{"name":"f5"},"mark":{"type":"line","clip":true},"encoding":{"detail":{"field":"r"},"order":{"value":null},"fill":{"field":"L","type":"ordinal","scale":{"domain":[1,3,4,5,6,7,8],"range":["#7a7ae2","#c1bcec","#e0deef","#f4dcd6","#f1b2a0","#e78b71","#da6248"]}},"stroke":{"field":"L","type":"ordinal","scale":{"domain":[1,3,4,5,6,7,8],"range":["#222","#333","#555","#777","#999","#aaa","#bbb"]}}}},{"data":{"name":"tf5"},"mark":"text","encoding":{"text":{"field":"t"},"angle":{"field":"a","type":"quantitative","scale":null}}},{"data":{"name":"p"},"mark":"point","encoding":{"fill":{"field":"f","type":"quantitative"},"size":{"field":"s","type":"quantitative","scale":{"domain":[1,5],"range":[12,62]}}}}]},

{"data":{"name":"e"},"mark":"text"},
{"view":{"fill":"#a09ce6","stroke":"#444"},"encoding":{"x":{"field":"x","type":"quantitative","scale":{"domain":[0,8.19]},"axis":{"values":[0,2,4,6,8],"labelExpr":"pow(2,datum.value)","title":null}},"y":{"field":"y","type":"quantitative","scale":{"domain":[0,90]},"axis":{"values":[0,22.5,45,67.5],"labelExpr":"''+datum.value","title":null}}},"layer":[{"data":{"name":"f2"},"mark":{"type":"line","clip":true},"encoding":{"detail":{"field":"r"},"order":{"value":null},"fill":{"field":"L","type":"ordinal","scale":{"domain":[1,3,4,5,6,7,8],"range":["#7a7ae2","#c1bcec","#e0deef","#f4dcd6","#f1b2a0","#e78b71","#da6248"]}},"stroke":{"field":"L","type":"ordinal","scale":{"domain":[1,3,4,5,6,7,8],"range":["#222","#333","#555","#777","#999","#aaa","#bbb"]}}}},{"data":{"name":"tf2"},"mark":"text","encoding":{"text":{"field":"t"},"angle":{"field":"a","type":"quantitative","scale":null}}},{"data":{"name":"p"},"mark":"point","encoding":{"fill":{"field":"f","type":"quantitative"},"size":{"field":"s","type":"quantitative","scale":{"domain":[1,5],"range":[25,110]}}}}]},
{"view":{"fill":"#a09ce6","stroke":"#444"},"encoding":{"x":{"field":"x","type":"quantitative","scale":{"domain":[0,8.19]},"axis":null},"y":{"field":"y","type":"quantitative","scale":{"domain":[0,90]},"axis":null}},"layer":[{"data":{"name":"f3"},"mark":{"type":"line","clip":true},"encoding":{"detail":{"field":"r"},"order":{"value":null},"fill":{"field":"L","type":"ordinal","scale":{"domain":[1,3,4,5,6,7,8],"range":["#7a7ae2","#c1bcec","#e0deef","#f4dcd6","#f1b2a0","#e78b71","#da6248"]}},"stroke":{"field":"L","type":"ordinal","scale":{"domain":[1,3,4,5,6,7,8],"range":["#222","#333","#555","#777","#999","#aaa","#bbb"]}}}},{"data":{"name":"tf3"},"mark":"text","encoding":{"text":{"field":"t"},"angle":{"field":"a","type":"quantitative","scale":null}}},{"data":{"name":"p"},"mark":"point","encoding":{"fill":{"field":"f","type":"quantitative"},"size":{"field":"s","type":"quantitative","scale":{"domain":[1,5],"range":[25,110]}}}}]},
{"view":{"fill":"#a09ce6","stroke":"#444"},"encoding":{"x":{"field":"x","type":"quantitative","scale":{"domain":[0,8.19]},"axis":{"values":[0,2,4,6,8],"labelExpr":"pow(2,datum.value)","title":null}},"y":{"field":"y","type":"quantitative","scale":{"domain":[0,90]},"axis":null}},"layer":[{"data":{"name":"f4"},"mark":{"type":"line","clip":true},"encoding":{"detail":{"field":"r"},"order":{"value":null},"fill":{"field":"L","type":"ordinal","scale":{"domain":[1,3,4,5,6,7,8],"range":["#7a7ae2","#c1bcec","#e0deef","#f4dcd6","#f1b2a0","#e78b71","#da6248"]}},"stroke":{"field":"L","type":"ordinal","scale":{"domain":[1,3,4,5,6,7,8],"range":["#222","#333","#555","#777","#999","#aaa","#bbb"]}}}},{"data":{"name":"tf4"},"mark":"text","encoding":{"text":{"field":"t"},"angle":{"field":"a","type":"quantitative","scale":null}}},{"data":{"name":"p"},"mark":"point","encoding":{"fill":{"field":"f","type":"quantitative"},"size":{"field":"s","type":"quantitative","scale":{"domain":[1,5],"range":[25,110]}}}}]},
{"data":{"name":"e"},"mark":"text","encoding":{"y":{"datum":1,"type":"quantitative","axis":{"orient":"right","title":"−0.1125"}}}},

{"encoding":{"x":{"field":"a","type":"quantitative","scale":{"domain":[0,1],"range":[-30,213]},"axis":{"offset":-38,"values":[0,0.2,0.4,0.6,0.8,1],"format":".1f","title":null,"labelFontSize":20}},"y":{"field":"y","type":"quantitative","scale":{"domain":[0,1],"range":[91,53]},"axis":null}},"layer":[{"data":{"name":"cb"},"mark":"rect","encoding":{"x2":{"field":"b"},"y2":{"field":"z"},"fill":{"field":"L","type":"ordinal","scale":{"domain":[0,1,2,3,4,5,6,7,8,9],"range":["#4a61dc","#7a7ae2","#a09ce6","#c1bcec","#e0deef","#f4dcd6","#f1b2a0","#e78b71","#da6248","#c5311b"]}}}},{"data":{"values":[{"a":0,"b":1,"y":0,"z":1}]},"mark":{"type":"rect","fillOpacity":0,"stroke":"#222"},"encoding":{"x2":{"field":"b"},"y2":{"field":"z"}}},{"data":{"values":[{"a":0.47,"y":-1.66,"t":"f"}]},"mark":{"type":"text","fontStyle":"italic","fontSize":27,"opacity":1,"fill":"#222"},"encoding":{"text":{"field":"t"}}},{"data":{"values":[{"a":0.525,"y":-1.85,"t":"T"}]},"mark":{"type":"text","fontSize":18,"opacity":1,"fill":"#222"},"encoding":{"text":{"field":"t"}}}]},
{"data":{"name":"e"},"mark":"text"},
{"view":{"fill":"#a09ce6","stroke":"#444"},"encoding":{"x":{"field":"x","type":"quantitative","scale":{"domain":[0,8.19]},"axis":{"values":[0,2,4,6,8],"labelExpr":"pow(2,datum.value)","title":"Rotation Period (days)","titleFontSize":24,"titlePadding":3}},"y":{"field":"y","type":"quantitative","scale":{"domain":[0,90]},"axis":{"values":[0,22.5,45,67.5],"labelExpr":"''+datum.value","title":null}}},"layer":[{"data":{"name":"f3"},"mark":{"type":"line","clip":true},"encoding":{"detail":{"field":"r"},"order":{"value":null},"fill":{"field":"L","type":"ordinal","scale":{"domain":[1,3,4,5,6,7,8],"range":["#7a7ae2","#c1bcec","#e0deef","#f4dcd6","#f1b2a0","#e78b71","#da6248"]}},"stroke":{"field":"L","type":"ordinal","scale":{"domain":[1,3,4,5,6,7,8],"range":["#222","#333","#555","#777","#999","#aaa","#bbb"]}}}},{"data":{"name":"tf3"},"mark":"text","encoding":{"text":{"field":"t"},"angle":{"field":"a","type":"quantitative","scale":null}}},{"data":{"name":"p"},"mark":"point","encoding":{"fill":{"field":"f","type":"quantitative"},"size":{"field":"s","type":"quantitative","scale":{"domain":[1,5],"range":[16,85]}}}}]},
{"data":{"name":"e"},"mark":"text"},
{"data":{"name":"e"},"mark":"text","encoding":{"y":{"datum":1,"type":"quantitative","axis":{"orient":"right","title":"e sin ϕₚₑᵣᵢ = −0.225","titleY":55}}}},

{"height":80,"data":{"name":"e"},"mark":"text"},{"height":80,"data":{"name":"e"},"mark":"text"},{"height":80,"data":{"name":"e"},"mark":"text"},{"height":80,"data":{"name":"e"},"mark":"text"},{"height":80,"data":{"name":"e"},"mark":"text"},

{"data":{"name":"e"},"mark":"text","encoding":{"x":{"datum":1,"type":"quantitative","axis":{"orient":"top","title":"e cos ϕₚₑᵣᵢ = −0.225"}}}},{"data":{"name":"e"},"mark":"text","encoding":{"x":{"datum":1,"type":"quantitative","axis":{"orient":"top","title":"−0.1125"}}}},
{"view":{"fill":"#c6c6c6","stroke":"#444"},"encoding":{"x":{"field":"x","type":"quantitative","scale":{"domain":[0,8.19]},"axis":{"orient":"top","title":"0"}},"y":{"field":"y","type":"quantitative","scale":{"domain":[0,90]},"axis":{"values":[0,22.5,45,67.5,90],"labelExpr":"''+datum.value","title":null}}},"layer":[{"data":{"name":"u3"},"mark":{"type":"line","clip":true},"encoding":{"detail":{"field":"r"},"order":{"value":null},"fill":{"field":"L","type":"ordinal","scale":{"domain":[1,3,4,5],"range":["#ebebeb","#a0a0a0","#808080","#636363"]}},"stroke":{"field":"L","type":"ordinal","scale":{"domain":[1,3,4,5],"range":["#111","#444","#555","#666"]}}}},{"data":{"name":"tu3"},"mark":"text","encoding":{"text":{"field":"t"},"angle":{"field":"a","type":"quantitative","scale":null}}},{"data":{"name":"p"},"mark":"point","encoding":{"fill":{"field":"f","type":"quantitative"},"size":{"field":"s","type":"quantitative","scale":{"domain":[1,5],"range":[16,85]}}}}]},
{"data":{"name":"e"},"mark":"text","encoding":{"x":{"datum":1,"type":"quantitative","axis":{"orient":"top","title":"0.1125"}}}},
{"data":{"name":"e"},"mark":"text","encoding":{"x":{"datum":1,"type":"quantitative","axis":{"orient":"top","title":"0.225"}},"y":{"datum":1,"type":"quantitative","axis":{"orient":"right","title":"0.225"}}}},

{"data":{"name":"e"},"mark":"text"},
{"view":{"fill":"#c6c6c6","stroke":"#444"},"encoding":{"x":{"field":"x","type":"quantitative","scale":{"domain":[0,8.19]},"axis":null},"y":{"field":"y","type":"quantitative","scale":{"domain":[0,90]},"axis":{"values":[0,22.5,45,67.5,90],"labelExpr":"''+datum.value","title":null}}},"layer":[{"data":{"name":"u2"},"mark":{"type":"line","clip":true},"encoding":{"detail":{"field":"r"},"order":{"value":null},"fill":{"field":"L","type":"ordinal","scale":{"domain":[1,3,4,5],"range":["#ebebeb","#a0a0a0","#808080","#636363"]}},"stroke":{"field":"L","type":"ordinal","scale":{"domain":[1,3,4,5],"range":["#111","#444","#555","#666"]}}}},{"data":{"name":"tu2"},"mark":"text","encoding":{"text":{"field":"t"},"angle":{"field":"a","type":"quantitative","scale":null}}},{"data":{"name":"p"},"mark":"point","encoding":{"fill":{"field":"f","type":"quantitative"},"size":{"field":"s","type":"quantitative","scale":{"domain":[1,5],"range":[25,110]}}}}]},
{"view":{"fill":"#c6c6c6","stroke":"#444"},"encoding":{"x":{"field":"x","type":"quantitative","scale":{"domain":[0,8.19]},"axis":null},"y":{"field":"y","type":"quantitative","scale":{"domain":[0,90]},"axis":null}},"layer":[{"data":{"name":"u3"},"mark":{"type":"line","clip":true},"encoding":{"detail":{"field":"r"},"order":{"value":null},"fill":{"field":"L","type":"ordinal","scale":{"domain":[1,3,4,5],"range":["#ebebeb","#a0a0a0","#808080","#636363"]}},"stroke":{"field":"L","type":"ordinal","scale":{"domain":[1,3,4,5],"range":["#111","#444","#555","#666"]}}}},{"data":{"name":"tu3"},"mark":"text","encoding":{"text":{"field":"t"},"angle":{"field":"a","type":"quantitative","scale":null}}},{"data":{"name":"p"},"mark":"point","encoding":{"fill":{"field":"f","type":"quantitative"},"size":{"field":"s","type":"quantitative","scale":{"domain":[1,5],"range":[25,110]}}}}]},
{"view":{"fill":"#c6c6c6","stroke":"#444"},"encoding":{"x":{"field":"x","type":"quantitative","scale":{"domain":[0,8.19]},"axis":null},"y":{"field":"y","type":"quantitative","scale":{"domain":[0,90]},"axis":null}},"layer":[{"data":{"name":"u4"},"mark":{"type":"line","clip":true},"encoding":{"detail":{"field":"r"},"order":{"value":null},"fill":{"field":"L","type":"ordinal","scale":{"domain":[1,3,4,5],"range":["#ebebeb","#a0a0a0","#808080","#636363"]}},"stroke":{"field":"L","type":"ordinal","scale":{"domain":[1,3,4,5],"range":["#111","#444","#555","#666"]}}}},{"data":{"name":"tu4"},"mark":"text","encoding":{"text":{"field":"t"},"angle":{"field":"a","type":"quantitative","scale":null}}},{"data":{"name":"p"},"mark":"point","encoding":{"fill":{"field":"f","type":"quantitative"},"size":{"field":"s","type":"quantitative","scale":{"domain":[1,5],"range":[25,110]}}}}]},
{"data":{"name":"e"},"mark":"text","encoding":{"y":{"datum":1,"type":"quantitative","axis":{"orient":"right","title":"0.1125"}}}},

{"view":{"fill":"#c6c6c6","stroke":"#444"},"encoding":{"x":{"field":"x","type":"quantitative","scale":{"domain":[0,8.19]},"axis":{"values":[0,2,4,6,8],"labelExpr":"pow(2,datum.value)","title":null}},"y":{"field":"y","type":"quantitative","scale":{"domain":[0,90]},"axis":{"values":[0,22.5,45,67.5,90],"labelExpr":"''+datum.value","title":"Obliquity (°)","titleFontSize":25,"titlePadding":2}}},"layer":[{"data":{"name":"u1"},"mark":{"type":"line","clip":true},"encoding":{"detail":{"field":"r"},"order":{"value":null},"fill":{"field":"L","type":"ordinal","scale":{"domain":[1,3,4,5],"range":["#ebebeb","#a0a0a0","#808080","#636363"]}},"stroke":{"field":"L","type":"ordinal","scale":{"domain":[1,3,4,5],"range":["#111","#444","#555","#666"]}}}},{"data":{"name":"tu1"},"mark":"text","encoding":{"text":{"field":"t"},"angle":{"field":"a","type":"quantitative","scale":null}}},{"data":{"name":"p"},"mark":"point","encoding":{"fill":{"field":"f","type":"quantitative"},"size":{"field":"s","type":"quantitative","scale":{"domain":[1,5],"range":[12,62]}}}}]},
{"view":{"fill":"#c6c6c6","stroke":"#444"},"encoding":{"x":{"field":"x","type":"quantitative","scale":{"domain":[0,8.19]},"axis":null},"y":{"field":"y","type":"quantitative","scale":{"domain":[0,90]},"axis":null}},"layer":[{"data":{"name":"u2"},"mark":{"type":"line","clip":true},"encoding":{"detail":{"field":"r"},"order":{"value":null},"fill":{"field":"L","type":"ordinal","scale":{"domain":[1,3,4,5],"range":["#ebebeb","#a0a0a0","#808080","#636363"]}},"stroke":{"field":"L","type":"ordinal","scale":{"domain":[1,3,4,5],"range":["#111","#444","#555","#666"]}}}},{"data":{"name":"tu2"},"mark":"text","encoding":{"text":{"field":"t"},"angle":{"field":"a","type":"quantitative","scale":null}}},{"data":{"name":"p"},"mark":"point","encoding":{"fill":{"field":"f","type":"quantitative"},"size":{"field":"s","type":"quantitative","scale":{"domain":[1,5],"range":[25,110]}}}}]},
{"view":{"fill":"#c6c6c6","stroke":"#444"},"encoding":{"x":{"field":"x","type":"quantitative","scale":{"domain":[0,8.19]},"axis":null},"y":{"field":"y","type":"quantitative","scale":{"domain":[0,90]},"axis":null}},"layer":[{"data":{"name":"u3"},"mark":{"type":"line","clip":true},"encoding":{"detail":{"field":"r"},"order":{"value":null},"fill":{"field":"L","type":"ordinal","scale":{"domain":[1,3,4,5],"range":["#ebebeb","#a0a0a0","#808080","#636363"]}},"stroke":{"field":"L","type":"ordinal","scale":{"domain":[1,3,4,5],"range":["#111","#444","#555","#666"]}}}},{"data":{"name":"tu3"},"mark":"text","encoding":{"text":{"field":"t"},"angle":{"field":"a","type":"quantitative","scale":null}}},{"data":{"name":"p"},"mark":"point","encoding":{"fill":{"field":"f","type":"quantitative"},"size":{"field":"s","type":"quantitative","scale":{"domain":[1,5],"range":[25,110]}}}}]},
{"view":{"fill":"#c6c6c6","stroke":"#444"},"encoding":{"x":{"field":"x","type":"quantitative","scale":{"domain":[0,8.19]},"axis":null},"y":{"field":"y","type":"quantitative","scale":{"domain":[0,90]},"axis":null}},"layer":[{"data":{"name":"u4"},"mark":{"type":"line","clip":true},"encoding":{"detail":{"field":"r"},"order":{"value":null},"fill":{"field":"L","type":"ordinal","scale":{"domain":[1,3,4,5],"range":["#ebebeb","#a0a0a0","#808080","#636363"]}},"stroke":{"field":"L","type":"ordinal","scale":{"domain":[1,3,4,5],"range":["#111","#444","#555","#666"]}}}},{"data":{"name":"tu4"},"mark":"text","encoding":{"text":{"field":"t"},"angle":{"field":"a","type":"quantitative","scale":null}}},{"data":{"name":"p"},"mark":"point","encoding":{"fill":{"field":"f","type":"quantitative"},"size":{"field":"s","type":"quantitative","scale":{"domain":[1,5],"range":[25,110]}}}}]},
{"view":{"fill":"#c6c6c6","stroke":"#444"},"encoding":{"x":{"field":"x","type":"quantitative","scale":{"domain":[0,8.19]},"axis":{"values":[0,2,4,6,8],"labelExpr":"pow(2,datum.value)","title":null}},"y":{"field":"y","type":"quantitative","scale":{"domain":[0,90]},"axis":{"orient":"right","title":"0"}}},"layer":[{"data":{"name":"u5"},"mark":{"type":"line","clip":true},"encoding":{"detail":{"field":"r"},"order":{"value":null},"fill":{"field":"L","type":"ordinal","scale":{"domain":[1,3,4,5],"range":["#ebebeb","#a0a0a0","#808080","#636363"]}},"stroke":{"field":"L","type":"ordinal","scale":{"domain":[1,3,4,5],"range":["#111","#444","#555","#666"]}}}},{"data":{"name":"tu5"},"mark":"text","encoding":{"text":{"field":"t"},"angle":{"field":"a","type":"quantitative","scale":null}}},{"data":{"name":"p"},"mark":"point","encoding":{"fill":{"field":"f","type":"quantitative"},"size":{"field":"s","type":"quantitative","scale":{"domain":[1,5],"range":[12,62]}}}}]},

{"data":{"name":"e"},"mark":"text"},
{"view":{"fill":"#c6c6c6","stroke":"#444"},"encoding":{"x":{"field":"x","type":"quantitative","scale":{"domain":[0,8.19]},"axis":{"values":[0,2,4,6,8],"labelExpr":"pow(2,datum.value)","title":null}},"y":{"field":"y","type":"quantitative","scale":{"domain":[0,90]},"axis":{"values":[0,22.5,45,67.5],"labelExpr":"''+datum.value","title":null}}},"layer":[{"data":{"name":"u2"},"mark":{"type":"line","clip":true},"encoding":{"detail":{"field":"r"},"order":{"value":null},"fill":{"field":"L","type":"ordinal","scale":{"domain":[1,3,4,5],"range":["#ebebeb","#a0a0a0","#808080","#636363"]}},"stroke":{"field":"L","type":"ordinal","scale":{"domain":[1,3,4,5],"range":["#111","#444","#555","#666"]}}}},{"data":{"name":"tu2"},"mark":"text","encoding":{"text":{"field":"t"},"angle":{"field":"a","type":"quantitative","scale":null}}},{"data":{"name":"p"},"mark":"point","encoding":{"fill":{"field":"f","type":"quantitative"},"size":{"field":"s","type":"quantitative","scale":{"domain":[1,5],"range":[25,110]}}}}]},
{"view":{"fill":"#c6c6c6","stroke":"#444"},"encoding":{"x":{"field":"x","type":"quantitative","scale":{"domain":[0,8.19]},"axis":null},"y":{"field":"y","type":"quantitative","scale":{"domain":[0,90]},"axis":null}},"layer":[{"data":{"name":"u3"},"mark":{"type":"line","clip":true},"encoding":{"detail":{"field":"r"},"order":{"value":null},"fill":{"field":"L","type":"ordinal","scale":{"domain":[1,3,4,5],"range":["#ebebeb","#a0a0a0","#808080","#636363"]}},"stroke":{"field":"L","type":"ordinal","scale":{"domain":[1,3,4,5],"range":["#111","#444","#555","#666"]}}}},{"data":{"name":"tu3"},"mark":"text","encoding":{"text":{"field":"t"},"angle":{"field":"a","type":"quantitative","scale":null}}},{"data":{"name":"p"},"mark":"point","encoding":{"fill":{"field":"f","type":"quantitative"},"size":{"field":"s","type":"quantitative","scale":{"domain":[1,5],"range":[25,110]}}}}]},
{"view":{"fill":"#c6c6c6","stroke":"#444"},"encoding":{"x":{"field":"x","type":"quantitative","scale":{"domain":[0,8.19]},"axis":{"values":[0,2,4,6,8],"labelExpr":"pow(2,datum.value)","title":null}},"y":{"field":"y","type":"quantitative","scale":{"domain":[0,90]},"axis":null}},"layer":[{"data":{"name":"u4"},"mark":{"type":"line","clip":true},"encoding":{"detail":{"field":"r"},"order":{"value":null},"fill":{"field":"L","type":"ordinal","scale":{"domain":[1,3,4,5],"range":["#ebebeb","#a0a0a0","#808080","#636363"]}},"stroke":{"field":"L","type":"ordinal","scale":{"domain":[1,3,4,5],"range":["#111","#444","#555","#666"]}}}},{"data":{"name":"tu4"},"mark":"text","encoding":{"text":{"field":"t"},"angle":{"field":"a","type":"quantitative","scale":null}}},{"data":{"name":"p"},"mark":"point","encoding":{"fill":{"field":"f","type":"quantitative"},"size":{"field":"s","type":"quantitative","scale":{"domain":[1,5],"range":[25,110]}}}}]},
{"data":{"name":"e"},"mark":"text","encoding":{"y":{"datum":1,"type":"quantitative","axis":{"orient":"right","title":"−0.1125"}}}},

{"encoding":{"x":{"field":"a","type":"quantitative","scale":{"domain":[0.008,0.072],"range":[-30,213]},"axis":{"offset":-38,"values":[0.008,0.016,0.024,0.032,0.04,0.048,0.056,0.064,0.072],"format":".3f","title":null,"labelFontSize":18}},"y":{"field":"y","type":"quantitative","scale":{"domain":[0,1],"range":[91,53]},"axis":null}},"layer":[{"data":{"name":"cu"},"mark":"rect","encoding":{"x2":{"field":"b"},"y2":{"field":"z"},"fill":{"field":"L","type":"ordinal","scale":{"domain":[0,1,2,3,4,5,6,7],"range":["#ebebeb","#c6c6c6","#a0a0a0","#808080","#636363","#444444","#2a2a2a","#111111"]}}}},{"data":{"values":[{"a":0.008,"b":0.072,"y":0,"z":1}]},"mark":{"type":"rect","fillOpacity":0,"stroke":"#222"},"encoding":{"x2":{"field":"b"},"y2":{"field":"z"}}},{"data":{"values":[{"a":0.034,"y":-1.66,"t":"Uncertainty in"}]},"mark":{"type":"text","fontSize":25,"opacity":1,"fill":"#222"},"encoding":{"text":{"field":"t"}}},{"data":{"values":[{"a":0.0551,"y":-1.66,"t":"f"}]},"mark":{"type":"text","fontStyle":"italic","fontSize":25,"opacity":1,"fill":"#222"},"encoding":{"text":{"field":"t"}}},{"data":{"values":[{"a":0.0588,"y":-1.85,"t":"T"}]},"mark":{"type":"text","fontSize":17,"opacity":1,"fill":"#222"},"encoding":{"text":{"field":"t"}}}]},
{"data":{"name":"e"},"mark":"text"},
{"view":{"fill":"#c6c6c6","stroke":"#444"},"encoding":{"x":{"field":"x","type":"quantitative","scale":{"domain":[0,8.19]},"axis":{"values":[0,2,4,6,8],"labelExpr":"pow(2,datum.value)","title":"Rotation Period (days)","titleFontSize":24,"titlePadding":3}},"y":{"field":"y","type":"quantitative","scale":{"domain":[0,90]},"axis":{"values":[0,22.5,45,67.5],"labelExpr":"''+datum.value","title":null}}},"layer":[{"data":{"name":"u3"},"mark":{"type":"line","clip":true},"encoding":{"detail":{"field":"r"},"order":{"value":null},"fill":{"field":"L","type":"ordinal","scale":{"domain":[1,3,4,5],"range":["#ebebeb","#a0a0a0","#808080","#636363"]}},"stroke":{"field":"L","type":"ordinal","scale":{"domain":[1,3,4,5],"range":["#111","#444","#555","#666"]}}}},{"data":{"name":"tu3"},"mark":"text","encoding":{"text":{"field":"t"},"angle":{"field":"a","type":"quantitative","scale":null}}},{"data":{"name":"p"},"mark":"point","encoding":{"fill":{"field":"f","type":"quantitative"},"size":{"field":"s","type":"quantitative","scale":{"domain":[1,5],"range":[16,85]}}}}]},
{"data":{"name":"e"},"mark":"text"},
{"data":{"name":"e"},"mark":"text","encoding":{"y":{"datum":1,"type":"quantitative","axis":{"orient":"right","title":"e sin ϕₚₑᵣᵢ = −0.225","titleY":55}}}}
]}
